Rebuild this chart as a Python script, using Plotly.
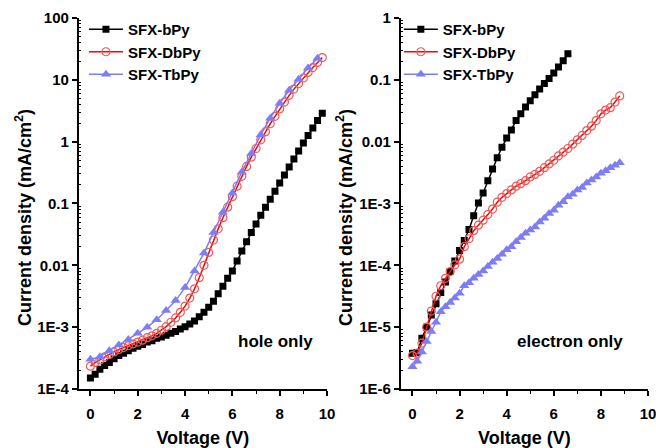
import plotly.graph_objects as go

# ---------------- data ----------------
V_HOLE_B = [0.0, 0.2, 0.4, 0.6, 0.8, 1.0, 1.2, 1.4, 1.6, 1.8, 2.0, 2.2, 2.4, 2.6, 2.8,
            3.0, 3.2, 3.4, 3.6, 3.8, 4.0, 4.2, 4.4, 4.6, 4.8, 5.0, 5.2, 5.4, 5.6, 5.8,
            6.0, 6.2, 6.4, 6.6, 6.8, 7.0, 7.2, 7.4, 7.6, 7.8, 8.0, 8.2, 8.4, 8.6, 8.8,
            9.0, 9.2, 9.4, 9.6, 9.8]
J_HOLE_BPY = [1.51e-4, 1.74e-4, 2.09e-4, 2.40e-4, 2.69e-4, 3.09e-4, 3.47e-4, 3.80e-4,
              4.17e-4, 4.57e-4, 4.90e-4, 5.25e-4, 5.75e-4, 6.03e-4, 6.61e-4, 6.92e-4,
              7.41e-4, 7.94e-4, 8.51e-4, 9.33e-4, 1.02e-3, 1.12e-3, 1.26e-3, 1.48e-3,
              1.74e-3, 2.09e-3, 2.63e-3, 3.47e-3, 4.57e-3, 6.17e-3, 8.13e-3, 1.17e-2,
              1.70e-2, 2.40e-2, 3.39e-2, 4.68e-2, 6.46e-2, 8.71e-2, 0.117, 0.158, 0.214,
              0.288, 0.389, 0.525, 0.708, 0.955, 1.26, 1.66, 2.19, 2.88]
J_HOLE_DBPY = [2.34e-4, 2.69e-4, 2.95e-4, 3.31e-4, 3.63e-4, 3.98e-4, 4.37e-4, 4.68e-4,
               5.01e-4, 5.37e-4, 5.75e-4, 6.17e-4, 6.76e-4, 7.24e-4, 7.94e-4, 8.91e-4,
               1.02e-3, 1.20e-3, 1.41e-3, 1.74e-3, 2.19e-3, 2.95e-3, 4.17e-3, 6.31e-3,
               1.00e-2, 1.62e-2, 2.57e-2, 3.89e-2, 5.89e-2, 8.71e-2, 0.129, 0.191, 0.275,
               0.398, 0.562, 0.776, 1.07, 1.45, 1.95, 2.57, 3.39, 4.37, 5.62, 7.08, 8.71,
               10.7, 13.2, 15.8, 19.1, 22.9]
V_HOLE_T = [0.0, 0.4, 0.8, 1.2, 1.6, 2.0, 2.4, 2.8, 3.2, 3.6, 4.0, 4.4, 4.8, 5.2, 5.6,
            6.0, 6.4, 6.8, 7.2, 7.6, 8.0, 8.4, 8.8, 9.2, 9.6]
J_HOLE_TBPY = [3.02e-4, 3.31e-4, 4.17e-4, 5.13e-4, 6.31e-4, 7.94e-4, 1.00e-3, 1.32e-3,
               1.86e-3, 2.69e-3, 4.37e-3, 8.13e-3, 1.58e-2, 3.39e-2, 7.24e-2, 0.148,
               0.324, 0.646, 1.29, 2.40, 4.17, 6.76, 10.2, 15.5, 22.4]

V_ELEC_B = [0.0, 0.2, 0.4, 0.6, 0.8, 1.0, 1.2, 1.4, 1.6, 1.8, 2.0, 2.2, 2.4, 2.6, 2.8,
            3.0, 3.2, 3.4, 3.6, 3.8, 4.0, 4.2, 4.4, 4.6, 4.8, 5.0, 5.2, 5.4, 5.6, 5.8,
            6.0, 6.2, 6.4, 6.6]
J_ELEC_BPY = [3.80e-6, 3.89e-6, 6.61e-6, 1.00e-5, 1.58e-5, 2.40e-5, 3.63e-5, 5.37e-5,
              7.94e-5, 1.17e-4, 1.74e-4, 2.51e-4, 3.80e-4, 6.31e-4, 1.02e-3, 1.48e-3,
              2.34e-3, 3.63e-3, 5.50e-3, 8.13e-3, 1.15e-2, 1.55e-2, 2.19e-2, 2.82e-2,
              3.63e-2, 4.57e-2, 5.75e-2, 7.08e-2, 8.71e-2, 0.105, 0.129, 0.162, 0.204,
              0.263]
V_ELEC = [0.0, 0.2, 0.4, 0.6, 0.8, 1.0, 1.2, 1.4, 1.6, 1.8, 2.0, 2.2, 2.4, 2.6, 2.8,
          3.0, 3.2, 3.4, 3.6, 3.8, 4.0, 4.2, 4.4, 4.6, 4.8, 5.0, 5.2, 5.4, 5.6, 5.8,
          6.0, 6.2, 6.4, 6.6, 6.8, 7.0, 7.2, 7.4, 7.6, 7.8, 8.0, 8.2, 8.4, 8.6, 8.8]
J_ELEC_DBPY = [3.47e-6, 3.80e-6, 5.50e-6, 1.00e-5, 1.82e-5, 3.16e-5, 4.68e-5, 6.17e-5,
               7.94e-5, 1.02e-4, 1.26e-4, 2.00e-4, 2.69e-4, 3.63e-4, 4.47e-4, 5.37e-4,
               6.61e-4, 8.13e-4, 1.05e-3, 1.26e-3, 1.45e-3, 1.66e-3, 1.91e-3, 2.09e-3,
               2.34e-3, 2.69e-3, 2.95e-3, 3.31e-3, 3.80e-3, 4.37e-3, 5.01e-3, 5.89e-3,
               6.76e-3, 7.76e-3, 9.12e-3, 1.07e-2, 1.26e-2, 1.51e-2, 1.78e-2, 2.19e-2,
               2.82e-2, 3.24e-2, 3.55e-2, 4.37e-2, 5.50e-2]
J_ELEC_TBPY = [2.29e-6, 2.82e-6, 3.98e-6, 5.89e-6, 8.51e-6, 1.20e-5, 1.78e-5, 2.14e-5,
               2.51e-5, 2.95e-5, 3.55e-5, 4.68e-5, 5.25e-5, 6.17e-5, 7.08e-5, 8.13e-5,
               9.55e-5, 1.12e-4, 1.29e-4, 1.51e-4, 1.78e-4, 2.00e-4, 2.40e-4, 2.82e-4,
               3.31e-4, 3.72e-4, 4.17e-4, 5.01e-4, 5.75e-4, 6.92e-4, 7.76e-4, 9.33e-4,
               1.07e-3, 1.29e-3, 1.41e-3, 1.66e-3, 1.82e-3, 2.14e-3, 2.40e-3, 2.69e-3,
               3.09e-3, 3.39e-3, 3.80e-3, 4.17e-3, 4.57e-3]

X_TICKS = [0, 2, 4, 6, 8, 10]
X_MINOR = [1, 3, 5, 7, 9]
Y1_TICKVALS = [1e-4, 1e-3, 1e-2, 1e-1, 1, 10, 100]
Y1_TICKTEXT = ["1E-4", "1E-3", "0.01", "0.1", "1", "10", "100"]
Y2_TICKVALS = [1e-6, 1e-5, 1e-4, 1e-3, 1e-2, 1e-1, 1]
Y2_TICKTEXT = ["1E-6", "1E-5", "1E-4", "1E-3", "0.01", "0.1", "1"]
NAMES = ["SFX-bPy", "SFX-DbPy", "SFX-TbPy"]
X_TITLE = "Voltage (V)"
Y_TITLE = "Current density (mA/cm<sup>2</sup>)"
PANEL_LABELS = ["hole only", "electron only"]

FONT = "Liberation Sans, Arial, sans-serif"
BLACK = "#000000"
RED_LINE = "#ff0000"
RED_MK = "#ee5a5a"
BLUE = "#7d7df5"


def minor_log(lo, hi):
    vals = []
    for e in range(lo, hi):
        for m in range(2, 10):
            vals.append(m * 10.0 ** e)
    return vals


styles = [
    dict(line=dict(color=BLACK, width=1.5),
         marker=dict(symbol="square", size=7, color=BLACK)),
    dict(line=dict(color=RED_LINE, width=1.5),
         marker=dict(symbol="circle-open", size=8, color=RED_MK, line=dict(width=1.2, color=RED_MK))),
    dict(line=dict(color=BLUE, width=1.5),
         marker=dict(symbol="triangle-up", size=9, color=BLUE)),
]

fig = go.Figure()
hole = [(V_HOLE_B, J_HOLE_BPY), (V_HOLE_B, J_HOLE_DBPY), (V_HOLE_T, J_HOLE_TBPY)]
elec = [(V_ELEC_B, J_ELEC_BPY), (V_ELEC, J_ELEC_DBPY), (V_ELEC, J_ELEC_TBPY)]
for i, (x, y) in enumerate(hole):
    fig.add_trace(go.Scatter(x=x, y=y, mode="lines+markers", name=NAMES[i],
                             xaxis="x", yaxis="y", legend="legend", **styles[i]))
for i, (x, y) in enumerate(elec):
    fig.add_trace(go.Scatter(x=x, y=y, mode="lines+markers", name=NAMES[i],
                             xaxis="x2", yaxis="y2", legend="legend2", **styles[i]))

tickfont = dict(family=FONT, size=15, color="black", weight="bold")
titlefont = dict(family=FONT, size=18, color="black", weight="bold")

def xaxis(domain, anchor):
    return dict(domain=domain, anchor=anchor, range=[-0.5, 10], showline=True,
                automargin=False, ticklabeloverflow="allow",
                linecolor="black", linewidth=1.5, mirror=False, showgrid=False,
                zeroline=False, ticks="outside", ticklen=5, tickwidth=1.5,
                tickcolor="black", tickmode="array", tickvals=X_TICKS,
                ticktext=[str(v) for v in X_TICKS], tickfont=tickfont,
                ticklabelstandoff=5,
                minor=dict(tickmode="array", tickvals=X_MINOR, ticks="outside",
                           ticklen=3, tickwidth=1.2, tickcolor="black", showgrid=False),
                title=dict(text=X_TITLE, font=titlefont, standoff=11))

def yaxis(domain, anchor, rng, tv, tt, lo, hi):
    return dict(domain=domain, anchor=anchor, type="log", range=rng, showline=True,
                automargin=False, ticklabeloverflow="allow",
                linecolor="black", linewidth=1.5, showgrid=False, zeroline=False,
                ticks="outside", ticklen=5, tickwidth=1.5, tickcolor="black",
                tickmode="array", tickvals=tv, ticktext=tt, tickfont=tickfont,
                minor=dict(tickmode="array", tickvals=minor_log(lo, hi), ticks="inside",
                           ticklen=3, tickwidth=1, tickcolor="black", showgrid=False))

legfont = dict(family=FONT, size=15, color="black", weight="bold")
YDOM = [0.1317, 0.9598]
W, H = 656, 448
fig.update_layout(
    width=W, height=H,
    margin=dict(l=0, r=0, t=0, b=0, autoexpand=False),
    paper_bgcolor="white", plot_bgcolor="white",
    font=dict(family=FONT, color="black"),
    xaxis=xaxis([0.1198, 0.4985], "y"),
    yaxis=yaxis(YDOM, "x", [-4, 2], Y1_TICKVALS, Y1_TICKTEXT, -4, 2),
    xaxis2=xaxis([0.6108, 0.9878], "y2"),
    yaxis2=yaxis(YDOM, "x2", [-6, 0], Y2_TICKVALS, Y2_TICKTEXT, -6, 0),
    legend=dict(x=0.128, y=0.971, xanchor="left", yanchor="top", itemwidth=34,
                bgcolor="rgba(0,0,0,0)", font=legfont, tracegroupgap=0),
    legend2=dict(x=0.608, y=0.971, xanchor="left", yanchor="top", itemwidth=34,
                 bgcolor="rgba(0,0,0,0)", font=legfont, tracegroupgap=0),
    showlegend=True,
    annotations=[
        dict(text=PANEL_LABELS[0], x=0.4207, y=0.2388, xref="paper", yref="paper",
             xanchor="center", yanchor="middle",
             showarrow=False, font=dict(family=FONT, size=17, weight="bold")),
        dict(text=PANEL_LABELS[1], x=0.869, y=0.2388, xref="paper", yref="paper",
             xanchor="center", yanchor="middle",
             showarrow=False, font=dict(family=FONT, size=17, weight="bold")),
        dict(text=Y_TITLE, textangle=-90, x=24 / W, y=1 - 218 / H, xref="paper",
             yref="paper", xanchor="center", yanchor="middle", showarrow=False,
             font=titlefont),
        dict(text=Y_TITLE, textangle=-90, x=345 / W, y=1 - 218 / H, xref="paper",
             yref="paper", xanchor="center", yanchor="middle", showarrow=False,
             font=titlefont),
    ],
)

fig.write_html("out.html")
